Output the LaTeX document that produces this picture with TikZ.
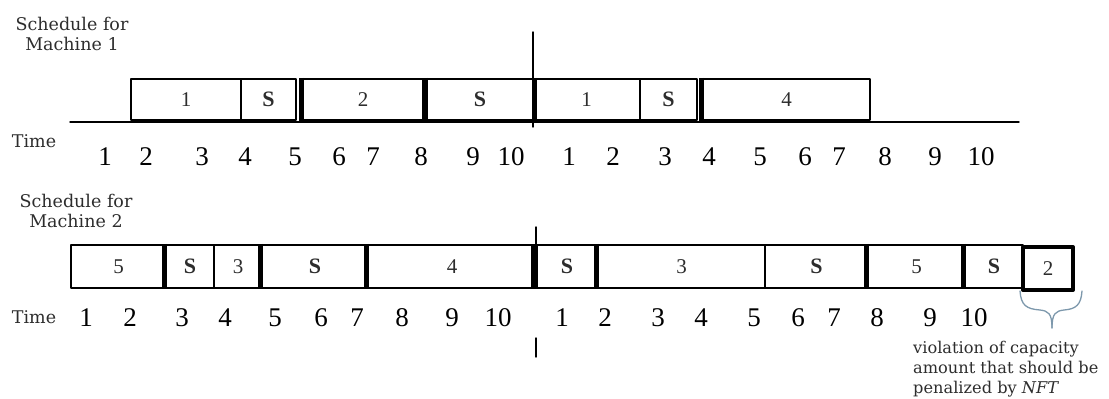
\documentclass[tikz,border=0pt]{standalone}
\usepackage{fontspec}
\setmainfont{Liberation Serif}
\newfontfamily\notefont{DejaVu Serif}
\usepackage{tikz}
\usetikzlibrary{positioning}
\definecolor{bracegray}{RGB}{125,152,172}
\definecolor{textgray}{RGB}{45,45,45}

\tikzset{
  slotbox/.style={draw, line width=2.4pt, inner sep=0pt, text=textgray,
    font=\fontsize{21}{21}\selectfont},
  toprow/.style={slotbox, minimum height=41pt},
  botrow/.style={slotbox, minimum height=43pt},
  setup/.style={font=\fontsize{22}{22}\selectfont\bfseries},
  thickedge/.style={line width=5pt, line cap=butt},
  ticklabel/.style={font=\fontsize{27}{27}\selectfont, inner sep=0pt},
  rowtitle/.style={font=\notefont\fontsize{17.5}{20}\selectfont, text=textgray, align=center, inner sep=0pt},
  timelabel/.style={font=\notefont\fontsize{17.5}{17.5}\selectfont, text=textgray, inner sep=0pt},
}

\begin{document}
\begin{tikzpicture}[x=1pt, y=-1pt, line cap=round, line join=round]
	\useasboundingbox (0,0) rectangle (1109,399);

	% machine 1
	\node[rowtitle] (title1) at (72,33.5) {Schedule for\\Machine 1};
	\coordinate (axis1s) at (70,122);
	\coordinate (axis1e) at (1019,122);
	\draw[line width=1.4pt] (axis1s) -- (axis1e);
	\coordinate (cut1top) at (533,32);
	\coordinate (cut1bot) at (533,127);
	\draw[line width=1.4pt] (cut1top) -- (cut1bot);

	\node[toprow, minimum width=110pt] (t1) at (186,99.5) {1};
	\node[toprow, setup, minimum width=55pt] (t2) at (268.5,99.5) {S};
	\node[toprow, minimum width=120pt] (t3) at (363,99.5) {2};
	\node[toprow, setup, minimum width=106pt] (t4) at (480,99.5) {S};
	\node[toprow, minimum width=107pt] (t5) at (586.5,99.5) {1};
	\node[toprow, setup, minimum width=57pt] (t6) at (668.5,99.5) {S};
	\node[toprow, minimum width=167pt] (t7) at (786.5,99.5) {4};
	\draw[thickedge] (t3.north west) -- (t3.south west);
	\draw[thickedge] (t4.north west) -- (t4.south west);
	\draw[thickedge] (t4.north east) -- (t4.south east);
	\draw[thickedge] (t7.north west) -- (t7.south west);

	\node[timelabel] (time1) at (34,141) {Time};
	\foreach \x/\t [count=\i] in {105/1,146/2,202/3,245/4,295/5,339/6,373/7,421/8,473/9,511/10,
	    569/1,613/2,665/3,709/4,760/5,805/6,839/7,885/8,935/9,981/10}
		\node[ticklabel] (ta\i) at (\x,157) {\t};

	% machine 2
	\node[rowtitle] (title2) at (76,211) {Schedule for\\Machine 2};
	\coordinate (cut2top) at (536,227);
	\coordinate (cut2mid) at (536,245);
	\coordinate (cut2low) at (536,338);
	\coordinate (cut2bot) at (536,357);
	\draw[line width=1.4pt] (cut2top) -- (cut2mid);
	\draw[line width=1.4pt] (cut2low) -- (cut2bot);

	\node[botrow, minimum width=95pt] (b1) at (118.5,266.5) {5};
	\node[botrow, setup, minimum width=48pt] (b2) at (190,266.5) {S};
	\node[botrow, minimum width=48pt] (b3) at (238,266.5) {3};
	\node[botrow, setup, minimum width=106pt] (b4) at (315,266.5) {S};
	\node[botrow, minimum width=168pt] (b5) at (452,266.5) {4};
	\node[botrow, setup, minimum width=62pt] (b6) at (567,266.5) {S};
	\node[botrow, minimum width=167pt] (b7) at (681.5,266.5) {3};
	\node[botrow, setup, minimum width=103pt] (b8) at (816.5,266.5) {S};
	\node[botrow, minimum width=97pt] (b9) at (916.5,266.5) {5};
	\node[botrow, setup, minimum width=58pt] (b10) at (994,266.5) {S};
	\node[botrow, line width=4pt, minimum width=50pt] (b11) at (1048,268.5) {2};
	\foreach \b in {b2,b4,b5,b7,b9,b10}
		\draw[thickedge] (\b.north west) -- (\b.south west);
	\draw[thickedge, line width=7pt] (b6.north west) -- (b6.south west);

	\node[timelabel] (time2) at (34,317) {Time};
	\foreach \x/\t [count=\i] in {86/1,130/2,182/3,225/4,275/5,321/6,357/7,402/8,452/9,498/10,
	    562/1,605/2,658/3,701/4,754/5,798/6,834/7,877/8,930/9,974/10}
		\node[ticklabel] (tb\i) at (\x,318) {\t};

	% brace under the overflow
	\coordinate (brl) at (1020,291);
	\coordinate (brr) at (1082,291);
	\coordinate (brtip) at (1052,328);
	\draw[bracegray, line width=1.3pt]
		(brl) .. controls (1021,305) and (1026,309) .. (1040,310)
		.. controls (1048,311) and (1052,313) .. (brtip);
	\draw[bracegray, line width=1.3pt]
		(brr) .. controls (1081,305) and (1076,309) .. (1064,310)
		.. controls (1056,311) and (1052,313) .. (brtip);
	\node[font=\notefont\fontsize{16.2}{20}\selectfont, text=textgray, align=left,
		anchor=north west, inner sep=0pt] (note) at (913,341)
		{violation of capacity\\amount that should be\\penalized by \textit{NFT}};
\end{tikzpicture}
\end{document}
